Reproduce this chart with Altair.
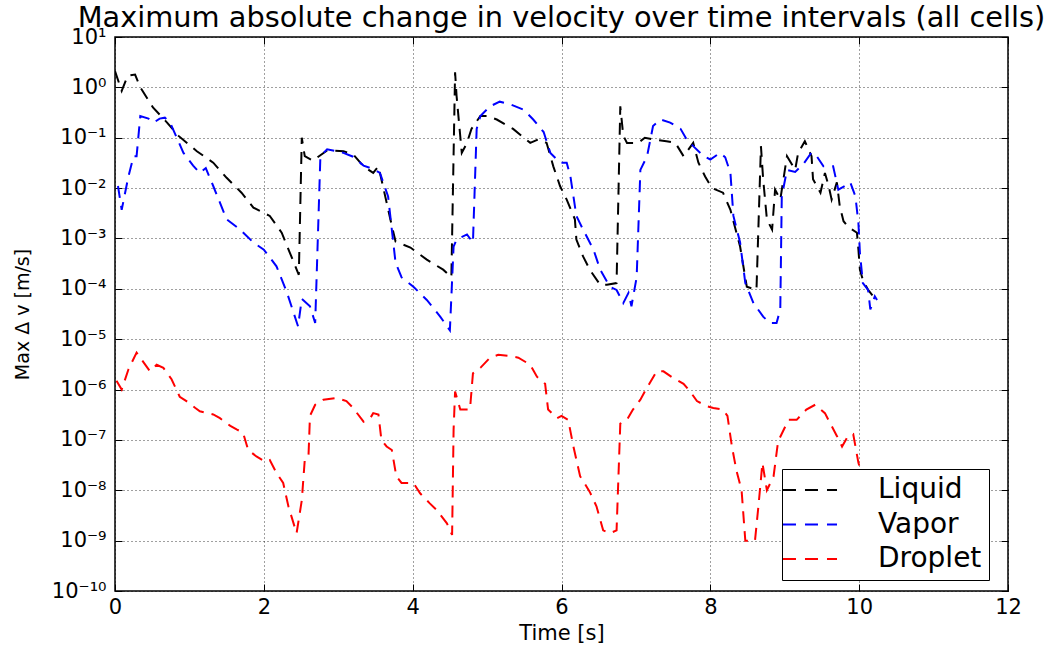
import altair as alt
import pandas as pd

# ---------------- data ----------------
liquid_t = [0.00, 0.09, 0.17, 0.27, 0.34, 0.51, 0.70, 0.85, 1.10, 1.32,
            1.50, 1.70, 1.86, 2.08, 2.24, 2.35, 2.47, 2.51, 2.55, 2.66,
            2.76, 2.85, 3.07, 3.20, 3.34, 3.47, 3.54, 3.60, 3.70, 3.77,
            3.97, 4.19, 4.41, 4.52, 4.57, 4.59, 4.66, 4.73, 4.79, 4.91,
            5.00, 5.13, 5.35, 5.58, 5.69, 5.80, 5.89, 5.98, 6.07, 6.18,
            6.20, 6.29, 6.38, 6.52, 6.61, 6.74, 6.79, 6.83, 6.88, 7.03,
            7.12, 7.23, 7.41, 7.53, 7.64, 7.77, 7.84, 7.93, 8.02, 8.17,
            8.27, 8.40, 8.49, 8.62, 8.68, 8.71, 8.76, 8.83, 8.87, 8.94,
            9.03, 9.14, 9.18, 9.27, 9.36, 9.38, 9.48, 9.54, 9.59, 9.63,
            9.70, 9.74, 9.79, 9.85, 9.97, 9.99, 10.01, 10.05, 10.12, 10.19]
liquid_v = [2.1e0, 8.5e-1, 1.7e0, 1.8e0, 1.0e0, 4.0e-1, 2.0e-1, 1.1e-1, 5.4e-2, 3.2e-2,
            1.6e-2, 8.1e-3, 4.1e-3, 2.8e-3, 1.3e-3, 5.2e-4, 1.9e-4, 1.0e-1, 4.3e-2, 3.5e-2,
            4.5e-2, 5.6e-2, 5.4e-2, 4.7e-2, 2.7e-2, 2.0e-2, 2.7e-2, 1.1e-2, 2.4e-3, 8.7e-4,
            6.6e-4, 3.8e-4, 2.4e-4, 1.7e-4, 2.0e0, 6.8e-1, 5.0e-2, 7.9e-2, 1.5e-1, 2.7e-1,
            2.7e-1, 2.3e-1, 1.5e-1, 7.9e-2, 9.3e-2, 7.9e-2, 2.7e-2, 1.1e-2, 5.9e-3, 2.4e-3,
            9.5e-4, 4.4e-4, 2.4e-4, 1.2e-4, 1.2e-4, 1.3e-4, 4.2e-1, 1.1e-1, 7.9e-2, 7.9e-2,
            1.0e-1, 9.3e-2, 8.5e-2, 7.9e-2, 4.3e-2, 7.9e-2, 3.2e-2, 1.7e-2, 1.0e-2, 8.1e-3,
            3.7e-3, 6.9e-4, 1.1e-4, 9.5e-5, 6.8e-2, 1.5e-2, 2.4e-3, 1.5e-3, 9.3e-3, 5.9e-3,
            4.3e-2, 2.3e-2, 5.0e-2, 8.5e-2, 4.3e-2, 1.5e-2, 8.1e-3, 2.0e-2, 1.1e-2, 5.9e-3,
            1.3e-2, 4.3e-3, 2.2e-3, 1.7e-3, 1.3e-3, 6.0e-4, 2.4e-4, 1.5e-4, 9.5e-5, 7.1e-5]

vapor_t = [0.04, 0.09, 0.18, 0.25, 0.29, 0.34, 0.45, 0.52, 0.60, 0.67,
           0.74, 0.92, 1.05, 1.14, 1.22, 1.32, 1.50, 1.68, 1.86, 2.00,
           2.17, 2.31, 2.46, 2.51, 2.62, 2.69, 2.76, 2.85, 3.07, 3.20,
           3.34, 3.47, 3.56, 3.67, 3.72, 3.77, 3.85, 4.01, 4.19, 4.37,
           4.50, 4.55, 4.59, 4.73, 4.81, 4.86, 4.91, 5.04, 5.17, 5.31,
           5.49, 5.62, 5.76, 5.85, 5.98, 6.07, 6.12, 6.20, 6.29, 6.43,
           6.52, 6.65, 6.74, 6.83, 6.90, 6.94, 7.01, 7.06, 7.15, 7.23,
           7.33, 7.46, 7.60, 7.68, 7.77, 7.91, 8.00, 8.13, 8.20, 8.27,
           8.31, 8.40, 8.47, 8.58, 8.71, 8.80, 8.89, 8.94, 8.96, 9.03,
           9.14, 9.25, 9.36, 9.43, 9.52, 9.65, 9.72, 9.81, 9.88, 9.95,
           9.99, 10.01, 10.05, 10.12, 10.15, 10.21, 10.24]
vapor_v = [1.1e-2, 3.7e-3, 1.7e-2, 4.3e-2, 4.3e-2, 2.7e-1, 2.4e-1, 2.0e-1, 2.4e-1, 2.5e-1,
           2.0e-1, 5.0e-2, 2.8e-2, 2.0e-2, 2.5e-2, 1.1e-2, 2.4e-3, 1.5e-3, 8.3e-4, 6.0e-4,
           2.8e-4, 8.5e-5, 1.8e-5, 6.3e-5, 4.5e-5, 2.1e-5, 4.3e-2, 5.9e-2, 5.0e-2, 4.2e-2,
           2.8e-2, 2.4e-2, 2.0e-2, 6.8e-3, 1.5e-3, 3.3e-4, 1.7e-4, 1.1e-4, 6.0e-5, 2.8e-5,
           1.5e-5, 6.9e-4, 9.5e-4, 1.2e-3, 8.3e-4, 1.5e-1, 2.7e-1, 4.2e-1, 5.2e-1, 4.6e-1,
           3.6e-1, 2.3e-1, 1.3e-1, 5.0e-2, 3.2e-2, 3.2e-2, 1.7e-2, 2.8e-3, 1.5e-3, 6.0e-4,
           2.4e-4, 1.1e-4, 9.5e-5, 5.2e-5, 8.3e-5, 4.5e-5, 1.7e-4, 2.3e-2, 4.3e-2, 1.7e-1,
           2.3e-1, 2.0e-1, 1.5e-1, 9.3e-2, 6.8e-2, 4.3e-2, 3.7e-2, 5.0e-2, 4.1e-2, 2.0e-2,
           2.8e-3, 8.3e-4, 1.3e-4, 5.2e-5, 2.8e-5, 2.1e-5, 2.1e-5, 3.9e-5, 6.8e-3, 2.3e-2,
           2.1e-2, 3.0e-2, 5.1e-2, 4.3e-2, 2.7e-2, 2.7e-2, 9.3e-3, 1.1e-2, 1.3e-2, 6.8e-3,
           2.0e-3, 5.2e-4, 1.3e-4, 9.5e-5, 3.9e-5, 7.1e-5, 6.0e-5]

droplet_t = [0.02, 0.09, 0.18, 0.29, 0.47, 0.56, 0.65, 0.76, 0.87, 0.96,
             1.08, 1.14, 1.32, 1.41, 1.55, 1.64, 1.72, 1.79, 1.90, 2.02,
             2.08, 2.17, 2.26, 2.33, 2.44, 2.51, 2.55, 2.60, 2.62, 2.69,
             2.80, 2.98, 3.11, 3.20, 3.34, 3.43, 3.47, 3.54, 3.58, 3.65,
             3.72, 3.78, 3.85, 4.01, 4.10, 4.23, 4.32, 4.46, 4.53, 4.55,
             4.57, 4.64, 4.77, 4.81, 4.91, 5.04, 5.15, 5.31, 5.42, 5.58,
             5.67, 5.78, 5.82, 5.94, 6.00, 6.09, 6.16, 6.25, 6.38, 6.47,
             6.56, 6.65, 6.74, 6.79, 6.88, 6.96, 7.06, 7.15, 7.28, 7.37,
             7.50, 7.64, 7.73, 7.82, 7.95, 8.04, 8.17, 8.23, 8.29, 8.35,
             8.42, 8.47, 8.60, 8.65, 8.70, 8.76, 8.85, 8.91, 9.05, 9.16,
             9.29, 9.41, 9.54, 9.70, 9.77, 9.85, 9.92, 9.99, 10.08, 10.18]
droplet_v = [1.5e-6, 1.0e-6, 2.5e-6, 5.4e-6, 2.3e-6, 3.1e-6, 2.7e-6, 1.6e-6, 7.2e-7, 5.9e-7,
             4.3e-7, 3.7e-7, 3.2e-7, 2.7e-7, 1.9e-7, 1.6e-7, 1.4e-7, 6.3e-8, 4.7e-8, 3.7e-8,
             4.0e-8, 2.2e-8, 1.4e-8, 4.8e-9, 1.4e-9, 6.3e-9, 4.0e-8, 4.7e-8, 3.0e-7, 5.0e-7,
             6.3e-7, 6.8e-7, 5.9e-7, 4.3e-7, 2.3e-7, 2.7e-7, 3.4e-7, 3.2e-7, 1.0e-7, 7.4e-8,
             6.3e-8, 1.9e-8, 1.4e-8, 1.4e-8, 8.7e-9, 5.5e-9, 4.1e-9, 2.2e-9, 1.3e-9, 1.6e-7,
             9.1e-7, 4.0e-7, 4.0e-7, 2.1e-6, 2.7e-6, 4.3e-6, 4.9e-6, 4.6e-6, 4.3e-6, 3.1e-6,
             1.8e-6, 1.3e-6, 4.0e-7, 2.7e-7, 3.0e-7, 2.5e-7, 7.4e-8, 1.9e-8, 9.3e-9, 4.8e-9,
             1.6e-9, 1.4e-9, 1.6e-9, 2.1e-7, 2.5e-7, 4.0e-7, 6.3e-7, 1.1e-6, 2.3e-6, 2.3e-6,
             1.7e-6, 1.3e-6, 9.1e-7, 5.9e-7, 4.7e-7, 4.3e-7, 4.0e-7, 3.0e-7, 7.4e-8, 2.5e-8,
             1.0e-8, 1.0e-9, 1.0e-9, 5.5e-9, 3.5e-8, 1.0e-8, 1.9e-8, 9.3e-8, 2.5e-7, 2.5e-7,
             4.0e-7, 5.0e-7, 3.4e-7, 1.2e-7, 7.4e-8, 1.2e-7, 1.3e-7, 3.5e-8, 1.3e-8, 6.3e-9]

series_names = ["Liquid", "Vapor", "Droplet"]
series_colors = ["#000000", "#0000ff", "#ff0000"]
x_ticks = [0, 2, 4, 6, 8, 10, 12]
y_exponents = list(range(-10, 2))
y_ticks = [10.0 ** e for e in y_exponents]

assert len(liquid_t) == len(liquid_v)
assert len(vapor_t) == len(vapor_v)
assert len(droplet_t) == len(droplet_v)

frames = []
for name, ts, vs in [("Liquid", liquid_t, liquid_v),
                     ("Vapor", vapor_t, vapor_v),
                     ("Droplet", droplet_t, droplet_v)]:
    frames.append(pd.DataFrame({"t": ts, "v": vs, "series": name}))
df = pd.concat(frames, ignore_index=True)

# ---------------- styling ----------------
W, H = 893, 554
FONT = "DejaVu Sans"
INWARD = alt.ExprRef(expr="-7")   # inward ticks, as in the reference

sup = str.maketrans("-0123456789", "⁻⁰¹²³⁴⁵⁶⁷⁸⁹")
label_expr = "''"
for e in y_exponents:
    label_expr = (f"abs(log(datum.value)/LN10 - ({e})) < 0.01 ? '10{str(e).translate(sup)}' : "
                  + label_expr)

x_scale = alt.Scale(domain=[0, 12], nice=False, zero=False)
y_scale = alt.Scale(type="log", domain=[1e-10, 10], nice=False)

main_x_axis = alt.Axis(orient="bottom", values=x_ticks, title="Time [s]", grid=True,
                       gridDash=[1, 3], gridColor="#000000", gridOpacity=0.75, gridWidth=1,
                       ticks=True, tickSize=INWARD, tickColor="#000000", domain=False,
                       labelFont=FONT, labelFontSize=21,
                       labelColor="#000000", labelPadding=12, labelFlush=False,
                       titleFont=FONT, titleFontSize=21, titleFontWeight="normal",
                       titleColor="#000000", titleY=48, titleBaseline="alphabetic")
main_y_axis = alt.Axis(orient="left", values=y_ticks, labelExpr=label_expr, title="Max Δ v [m/s]",
                       grid=True, gridDash=[1, 3], gridColor="#000000", gridOpacity=0.75,
                       gridWidth=1, ticks=True, tickSize=INWARD, tickColor="#000000",
                       domain=False, labelFont=FONT,
                       labelFontSize=21, labelColor="#000000", labelPadding=16,
                       labelFlush=False, labelOverlap=False, labelBound=False,
                       titleFont=FONT, titleFontSize=19, titleFontWeight="normal",
                       titleColor="#000000", titleX=-93, titleY=H / 2, titleAngle=270,
                       titleAlign="center", titleBaseline="middle")

legend = alt.Legend(title=None, orient="none", legendX=667, legendY=432,
                    symbolType="M-2.5,0L2.5,0", symbolSize=467, symbolStrokeWidth=2,
                    symbolDash=[13, 9], symbolOffset=7, labelFont=FONT, labelFontSize=28,
                    labelColor="#000000", labelOffset=54, rowPadding=6.5, padding=7,
                    fillColor="#ffffff", strokeColor="#000000", cornerRadius=0)

lines = alt.Chart(df).mark_line(strokeDash=[12, 8], strokeWidth=2, clip=True).encode(
    x=alt.X("t:Q", scale=x_scale, axis=main_x_axis),
    y=alt.Y("v:Q", scale=y_scale, axis=main_y_axis),
    color=alt.Color("series:N", scale=alt.Scale(domain=series_names, range=series_colors),
                    legend=legend, sort=series_names),
)


def tick_axis(orient, values):
    return alt.Axis(orient=orient, values=values, labels=False, grid=False,
                    domain=False, ticks=True, tickSize=INWARD, tickColor="#000000",
                    tickWidth=1, title=None)


ticks_tr = alt.Chart(df).mark_point(opacity=0).encode(
    x=alt.X("t:Q", scale=x_scale, axis=tick_axis("top", x_ticks)),
    y=alt.Y("v:Q", scale=y_scale, axis=tick_axis("right", y_ticks)),
)

chart = alt.layer(lines, ticks_tr).resolve_axis(
    x="independent", y="independent"
).properties(
    width=W, height=H,
    title=alt.TitleParams("Maximum absolute change in velocity over time intervals (all cells)",
                          font=FONT, fontSize=28.8, fontWeight="normal", color="#000000",
                          anchor="middle", offset=-30, baseline="alphabetic", frame="group"),
    autosize=alt.AutoSizeParams(type="none"),
    padding={"left": 115, "top": 37, "right": 41, "bottom": 57},
    background="#ffffff",
).configure_view(stroke="#000000", strokeWidth=1.5)

chart.save("out.html", embed_options={"renderer": "svg", "actions": False})
